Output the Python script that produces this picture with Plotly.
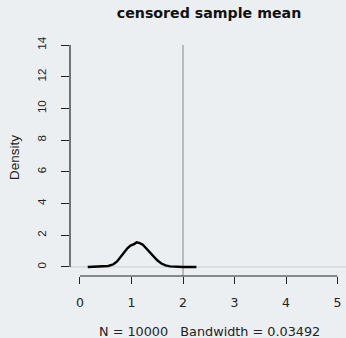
import plotly.graph_objects as go

# density curve
dens_x = [0.15, 0.30, 0.45, 0.55, 0.65, 0.72, 0.78, 0.85, 0.92, 0.98, 1.04, 1.10,
          1.16, 1.22, 1.28, 1.35, 1.42, 1.50, 1.58, 1.66, 1.75, 1.85, 2.00, 2.26]
dens_y = [0.0, 0.005, 0.02, 0.06, 0.17, 0.35, 0.60, 0.90, 1.18, 1.35, 1.42, 1.55,
          1.50, 1.40, 1.20, 0.95, 0.68, 0.42, 0.22, 0.10, 0.04, 0.01, 0.002, 0.0]

x_ticks = [0, 1, 2, 3, 4, 5]
y_ticks = [0, 2, 4, 6, 8, 10, 12, 14]
vline_x = 2
title = "censored sample mean"
subtitle = "N = 10000\u00a0\u00a0\u00a0Bandwidth = 0.03492"
ylabel = "Density"

BG = "#ECEFF1"
AX = "#222222"
WIDE = "DejaVu Sans, Verdana, sans-serif"
HELV = "Liberation Sans, Arial, sans-serif"

fig = go.Figure()
fig.add_trace(go.Scatter(x=dens_x, y=dens_y, mode="lines",
                         line=dict(color="black", width=2.4), hoverinfo="skip"))

# zero line across the plot region
fig.add_shape(type="line", xref="paper", yref="y", x0=0, x1=1, y0=0, y1=0,
              line=dict(color="#c9cccf", width=1), layer="below")
# vertical reference line
fig.add_shape(type="line", xref="x", yref="y", x0=vline_x, x1=vline_x, y0=-0.57, y1=14,
              line=dict(color="#999999", width=1.2), layer="below")
# axis lines (R style: only over tick range)
fig.add_shape(type="line", xref="x", yref="paper", x0=x_ticks[0], x1=x_ticks[-1], y0=0, y1=0,
              line=dict(color=AX, width=1.2))
fig.add_shape(type="line", xref="paper", yref="y", x0=0, x1=0, y0=y_ticks[0], y1=y_ticks[-1],
              line=dict(color=AX, width=1.2))

fig.update_layout(
    width=346, height=338,
    margin=dict(l=70, r=0, t=45, b=62),
    paper_bgcolor=BG, plot_bgcolor=BG,
    showlegend=False,
    title=dict(text="<b>" + title + "</b>", x=209 / 346, xanchor="center",
               y=1 - 13 / 338, yanchor="middle",
               font=dict(family=WIDE, size=14.2, color="#111111")),
    xaxis=dict(range=[-0.194, 5.165], tickvals=x_ticks, ticktext=[str(v) for v in x_ticks],
               showgrid=False, zeroline=False, showline=False,
               ticks="outside", ticklen=7, tickwidth=1.2, tickcolor=AX,
               ticklabelstandoff=8,
               tickfont=dict(family=WIDE, size=12.5, color="#222222")),
    yaxis=dict(range=[-0.57, 14], tickvals=y_ticks, ticktext=[str(v) for v in y_ticks],
               showgrid=False, zeroline=False, showline=False,
               ticks="outside", ticklen=8, tickwidth=1.2, tickcolor=AX,
               tickangle=-90, ticklabelstandoff=10,
               tickfont=dict(family=HELV, size=11.5, color="#222222")),
    annotations=[
        dict(text=subtitle, xref="paper", yref="paper",
             x=(209 - 70) / 276, y=-(331 - 276) / 231, xanchor="center", yanchor="middle",
             showarrow=False,
             font=dict(family=WIDE, size=12.8, color="#222222")),
        dict(text=ylabel, xref="paper", yref="paper",
             x=-(70 - 14) / 276, y=(276 - 158) / 231, xanchor="center", yanchor="middle",
             textangle=-90, showarrow=False,
             font=dict(family=HELV, size=13.5, color="#222222")),
    ],
)

fig.write_html("out.html")
